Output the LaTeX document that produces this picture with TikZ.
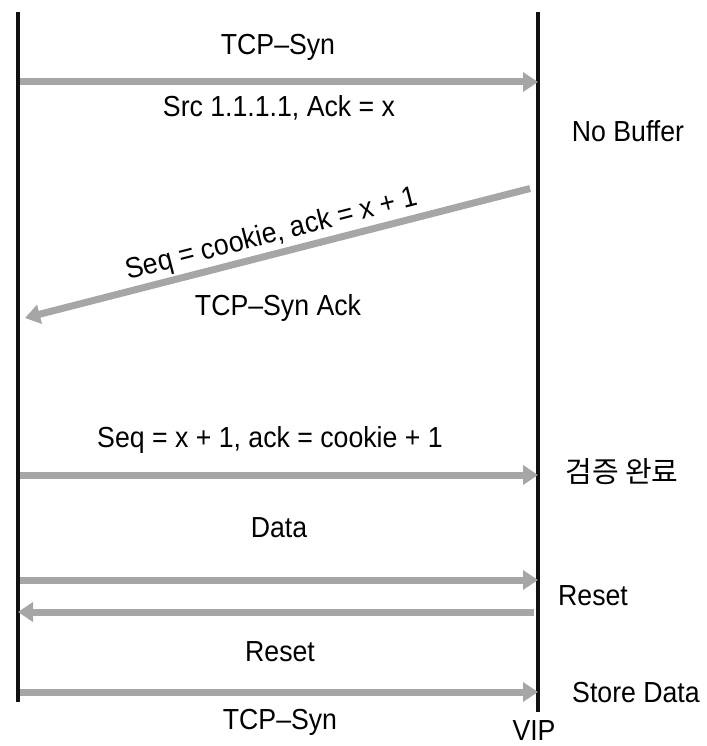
\documentclass[tikz,border=0pt]{standalone}
\usepackage{fontspec}
\setmainfont[FakeStretch=0.92]{Liberation Sans}
\newfontfamily\krfont{Noto Sans CJK KR}
\usepackage{tikz}
\usetikzlibrary{positioning, arrows.meta}
\definecolor{msggray}{HTML}{A6A6A6}
\definecolor{linegray}{HTML}{111111}

\begin{document}
\begin{tikzpicture}[x=1pt, y=-1pt,
    lifeline/.style={draw=linegray, line width=4.5pt},
    msg/.style={draw=msggray, line width=7pt,
                -{Triangle[length=15pt, width=19pt, fill=msggray]}, shorten <=2pt},
    lbl/.style={font=\fontsize{29}{32}\selectfont, inner sep=0pt}]
    \useasboundingbox (0,0) rectangle (706,746);
    % lifelines
    \coordinate (cliTop) at (18,12);   \coordinate (cliBot) at (18,702);
    \coordinate (vipTop) at (538,12);  \coordinate (vipBot) at (538,712);
    \draw[lifeline] (cliTop) -- (cliBot);
    \draw[lifeline] (vipTop) -- (vipBot);
    % message end points
    \coordinate (c1) at (18,82);   \coordinate (v1) at (538,82);
    \coordinate (v2) at (532,188); \coordinate (c2) at (25,318);
    \coordinate (c3) at (18,475);  \coordinate (v3) at (538,475);
    \coordinate (c4) at (18,580);  \coordinate (v4) at (538,580);
    \coordinate (v5) at (536,612); \coordinate (c5) at (18,612);
    \coordinate (c6) at (18,692);  \coordinate (v6) at (538,692);
    \draw[msg] (c1) -- (v1);
    \draw[msg] (v2) -- (c2);
    \draw[msg] (c3) -- (v3);
    \draw[msg] (c4) -- (v4);
    \draw[msg] (v5) -- (c5);
    \draw[msg] (c6) -- (v6);
    % labels
    \node[lbl] (synTop) at (278,47) {TCP--Syn};
    \node[lbl] (srcLbl) at (279,108) {Src 1.1.1.1, Ack = x};
    \node[lbl, rotate=14.4] (cookieLbl) at (272,235) {Seq = cookie, ack = x + 1};
    \node[lbl] (synAck) at (278,308) {TCP--Syn Ack};
    \node[lbl] (seqLbl) at (270,440) {Seq = x + 1, ack = cookie + 1};
    \node[lbl] (dataLbl) at (279,528) {Data};
    \node[lbl] (resetMid) at (280,652) {Reset};
    \node[lbl] (synBot) at (280,722) {TCP--Syn};
    % notes beside the VIP
    \node[lbl] (noBuf) at (628,131) {No Buffer};
    \node[lbl] (verified) at (622,472) {\krfont 검증 완료};
    \node[lbl] (resetSide) at (593,596) {Reset};
    \node[lbl] (storeLbl) at (636,693) {Store Data};
    \node[lbl] (vipLbl) at (534,731) {VIP};
\end{tikzpicture}
\end{document}
